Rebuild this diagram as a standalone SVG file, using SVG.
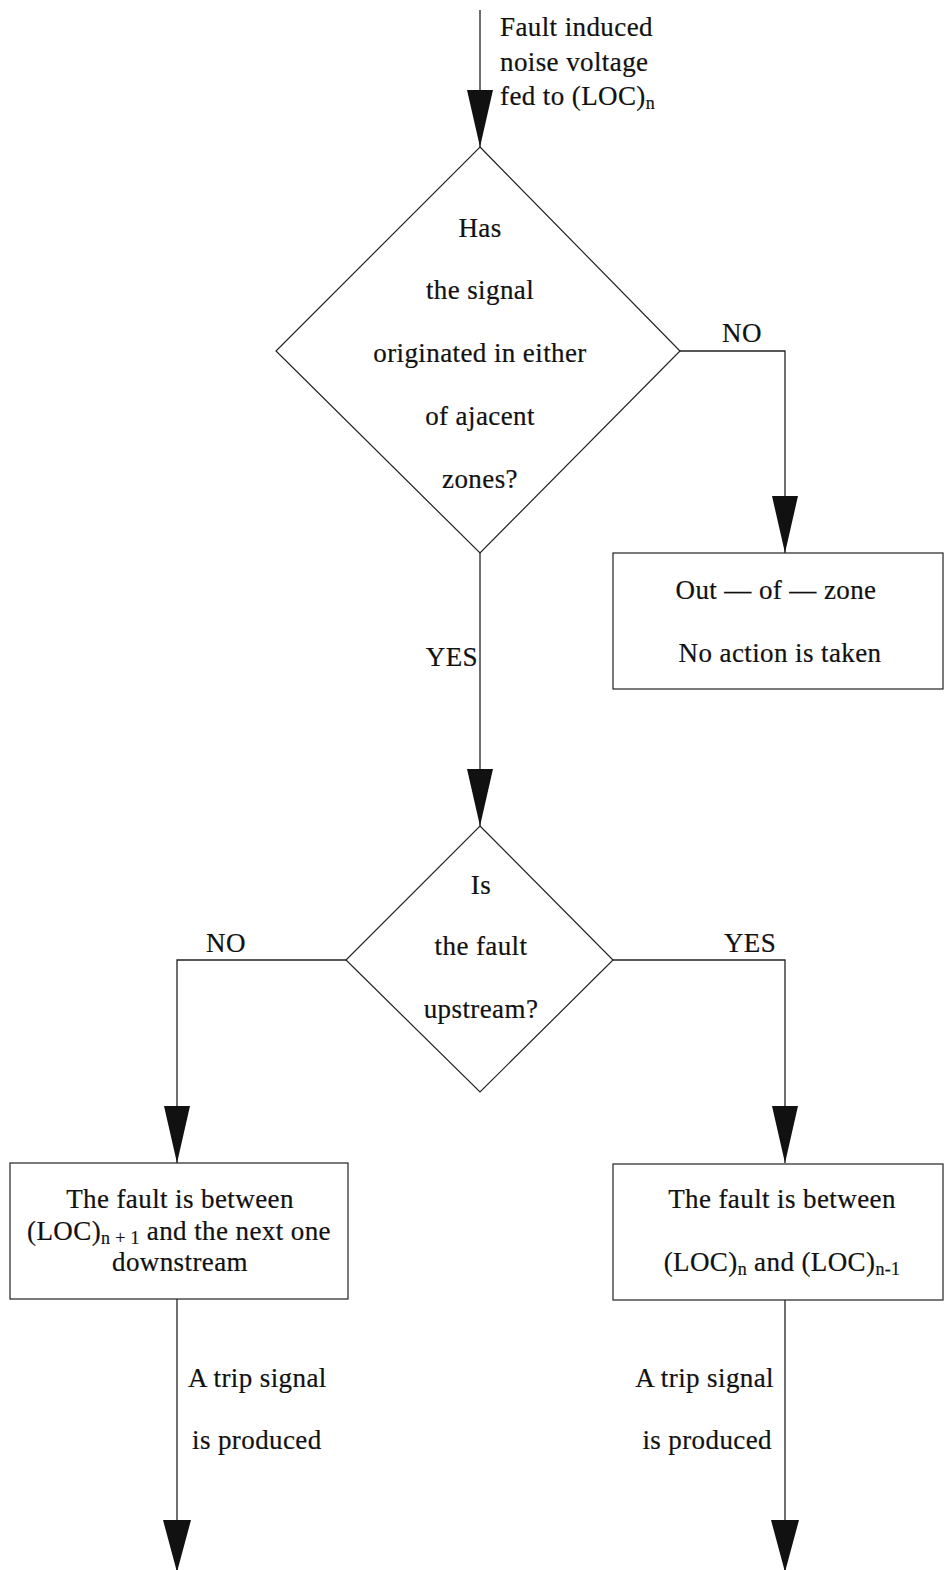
<svg xmlns="http://www.w3.org/2000/svg" width="945" height="1570" viewBox="0 0 945 1570">
  <style>
    text { font-family: "Liberation Serif", "Times New Roman", serif; font-size: 27px; letter-spacing: 0.4px; fill: #111; stroke: #111; stroke-width: 0.2px; }
    .c { text-anchor: middle; }
    .r { text-anchor: end; }
    .sub { font-size: 18px; letter-spacing: 0.3px; }
    .shape { fill: #fff; stroke: #222; stroke-width: 1.2; }
    .wire { fill: none; stroke: #222; stroke-width: 1.3; }
  </style>
  <defs>
    <marker id="head" markerUnits="userSpaceOnUse" markerWidth="57" markerHeight="26" refX="57" refY="13" orient="auto" overflow="visible">
      <path d="M0,0 L57,13 L0,26 Z" fill="#111"/>
    </marker>
    <marker id="headShort" markerUnits="userSpaceOnUse" markerWidth="52" markerHeight="28" refX="52" refY="14" orient="auto" overflow="visible">
      <path d="M0,0 L52,14 L0,28 Z" fill="#111"/>
    </marker>
  </defs>

  <g id="connectors">
    <path class="wire" d="M480,10 V147" marker-end="url(#head)"/>
    <path class="wire" d="M680,351 H785 V553" marker-end="url(#head)"/>
    <path class="wire" d="M480,553 V826" marker-end="url(#head)"/>
    <path class="wire" d="M346,960 H177 V1163" marker-end="url(#head)"/>
    <path class="wire" d="M613,960 H785 V1163" marker-end="url(#head)"/>
    <path class="wire" d="M177,1299 V1572" marker-end="url(#headShort)"/>
    <path class="wire" d="M785,1300 V1572" marker-end="url(#headShort)"/>
  </g>

  <g id="labels">
    <text x="500" y="36">Fault induced</text>
    <text x="500" y="71">noise voltage</text>
    <text x="500" y="105">fed to (LOC)<tspan class="sub" dy="4">n</tspan></text>
    <text x="742" y="342" class="c">NO</text>
    <text x="478" y="666" class="r">YES</text>
    <text x="226" y="952" class="c">NO</text>
    <text x="750" y="952" class="c">YES</text>
    <text x="188" y="1387">A trip signal</text>
    <text x="192" y="1449">is produced</text>
    <text x="774" y="1387" class="r">A trip signal</text>
    <text x="772" y="1449" class="r">is produced</text>
  </g>

  <g id="decision-origin">
    <polygon class="shape" points="480,147 680,351 480,553 276,351"/>
    <text x="480" y="237" class="c">Has</text>
    <text x="480" y="299" class="c">the signal</text>
    <text x="480" y="362" class="c">originated in either</text>
    <text x="480" y="425" class="c">of ajacent</text>
    <text x="480" y="488" class="c">zones?</text>
  </g>

  <g id="out-of-zone">
    <rect class="shape" x="613" y="553" width="330" height="136"/>
    <text x="776" y="599" class="c">Out — of — zone</text>
    <text x="780" y="662" class="c">No action is taken</text>
  </g>

  <g id="decision-upstream">
    <polygon class="shape" points="480,826 613,960 480,1092 346,960"/>
    <text x="481" y="894" class="c">Is</text>
    <text x="481" y="955" class="c">the fault</text>
    <text x="481" y="1018" class="c">upstream?</text>
  </g>

  <g id="fault-downstream">
    <rect class="shape" x="10" y="1163" width="338" height="136"/>
    <text x="180" y="1208" class="c">The fault is between</text>
    <text x="179" y="1240" class="c">(LOC)<tspan class="sub" dy="4">n + 1</tspan><tspan dy="-4"> and the next one</tspan></text>
    <text x="180" y="1271" class="c">downstream</text>
  </g>

  <g id="fault-upstream">
    <rect class="shape" x="613" y="1164" width="330" height="136"/>
    <text x="782" y="1208" class="c">The fault is between</text>
    <text x="782" y="1271" class="c">(LOC)<tspan class="sub" dy="4">n</tspan><tspan dy="-4"> and (LOC)</tspan><tspan class="sub" dy="4">n-1</tspan></text>
  </g>
</svg>
